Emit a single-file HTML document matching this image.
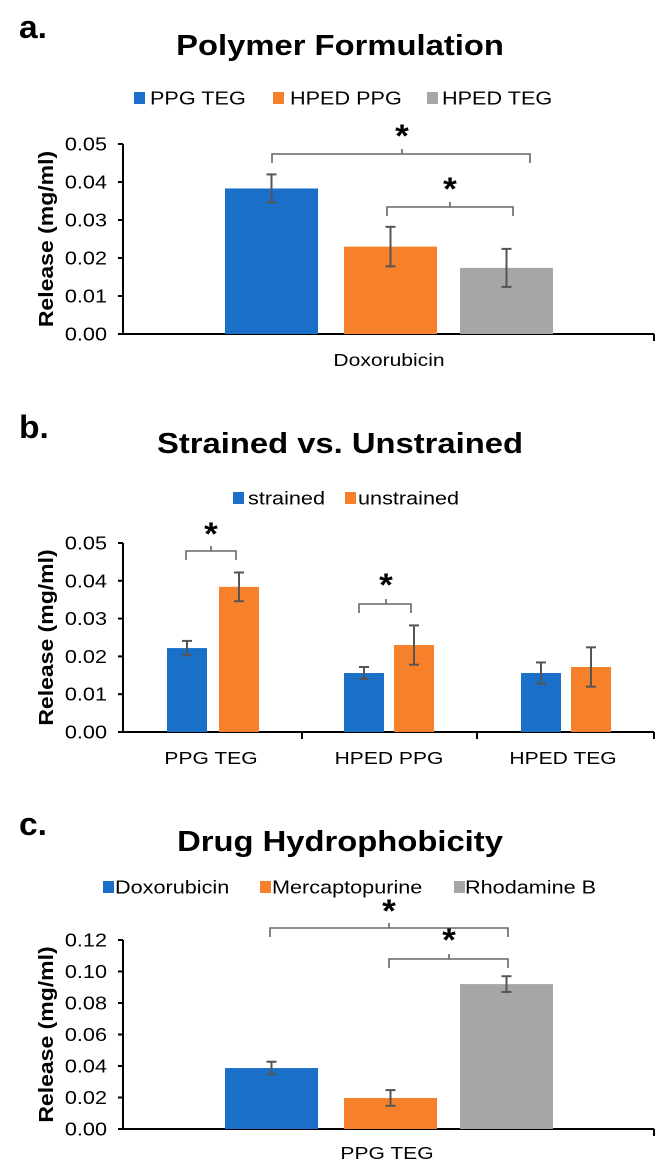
<!DOCTYPE html>
<html><head><meta charset="utf-8"><style>
body{margin:0;background:#fff;}
svg{display:block;font-family:"Liberation Sans",Arial,sans-serif;}
</style></head><body>
<svg id="fig" width="671" height="1175" viewBox="0 0 671 1175"></svg>
<script>
// Panel a data
const aSeries = ["PPG TEG","HPED PPG","HPED TEG"];
const aValues = [0.0383, 0.0230, 0.0174];
const aErrors = [0.0037, 0.0052, 0.0050];
const aTicks = ["0.00","0.01","0.02","0.03","0.04","0.05"];
// Panel b data
const bCategories = ["PPG TEG","HPED PPG","HPED TEG"];
const bStrained = [0.0222, 0.0156, 0.0156];
const bStrainedErr = [0.0019, 0.0016, 0.0028];
const bUnstrained = [0.0384, 0.0230, 0.0172];
const bUnstrainedErr = [0.0038, 0.0052, 0.0052];
const bTicks = ["0.00","0.01","0.02","0.03","0.04","0.05"];
// Panel c data
const cSeries = ["Doxorubicin","Mercaptopurine","Rhodamine B"];
const cValues = [0.0387, 0.0197, 0.0920];
const cErrors = [0.0040, 0.0050, 0.0050];
const cTicks = ["0.00","0.02","0.04","0.06","0.08","0.10","0.12"];

const C = ["#1a6fc9","#f7812a","#a6a6a6"];
const svg = document.getElementById('fig');
const NS = "http://www.w3.org/2000/svg";
function el(tag, attrs, parent){
  const e = document.createElementNS(NS, tag);
  for (const k in attrs) e.setAttribute(k, attrs[k]);
  (parent||svg).appendChild(e); return e;
}
function txt(x,y,s,size,weight,anchor,parent,sx,rot){
  const t = el('text',{x:0,y:0,'font-size':size,'font-weight':weight||'normal','text-anchor':anchor||'start',fill:'#000'},parent);
  t.setAttribute('transform',`translate(${x},${y})${rot?' rotate('+rot+')':''} scale(${sx||1.17},1)`);
  t.textContent = s; return t;
}
const X0 = 123, X1 = 654;

function axes(g, yTop, yBot, ticks, maxV, catTicks){
  const ax = el('g',{},g);
  
  
  el('line',{x1:X0,y1:yTop,x2:X0,y2:yBot,stroke:'#000','stroke-width':2},ax);
  ticks.forEach((t,i)=>{
    const y = yBot - (parseFloat(t)/maxV)*(yBot-yTop);
    el('line',{x1:X0-5,y1:y,x2:X0,y2:y,stroke:'#000','stroke-width':2},ax);
    const l = txt(X0-16,y+6.5,t,18.5,'normal','end',ax);
    
    
  });
  const xa = el('g',{},g);
  
  
  el('line',{x1:X0,y1:yBot,x2:X1,y2:yBot,stroke:'#000','stroke-width':2},xa);
  el('line',{x1:X1,y1:yBot,x2:X1,y2:yBot+7,stroke:'#000','stroke-width':2},xa);
  (catTicks||[]).forEach(x=>el('line',{x1:x,y1:yBot,x2:x,y2:yBot+7,stroke:'#000','stroke-width':2},xa));
  const yt = txt(53,(yTop+yBot)/2,"Release (mg/ml)",20,'bold','middle',g,1.15,-90);
  
  
}
function bar(g,x,w,v,e,yTop,yBot,maxV,color,name){
  const s = (yBot-yTop)/maxV;
  const r = el('rect',{x:x,y:yBot-v*s,width:w,height:v*s,fill:color},g);
  
  
  const cx = x+w/2, y1 = yBot-(v+e)*s, y2 = yBot-(v-e)*s;
  const eg = el('g',{stroke:'#555','stroke-width':2},g);
  
  
  el('line',{x1:cx,y1:y1,x2:cx,y2:y2},eg);
  el('line',{x1:cx-5,y1:y1,x2:cx+5,y2:y1},eg);
  el('line',{x1:cx-5,y1:y2,x2:cx+5,y2:y2},eg);
}
function bracket(g,xa,xb,y,xm,starY){
  const b = el('path',{d:`M${xa},${y+9} L${xa},${y} L${xb},${y} L${xb},${y+9} M${xm},${y} L${xm},${y-5}`,fill:'none',stroke:'#666','stroke-width':1.6},g);
  
  
  const s = txt(xm,starY+14,"*",32,'bold','middle',g,1.1);
  
  
}
function legend(g,items,y,xs){
  items.forEach((it,i)=>{
    const lg = el('g',{},g);
    
    
    el('rect',{x:xs[i][0],y:y-6,width:11,height:12,fill:C[i]},lg);
    txt(xs[i][1],y+6.5,it,18.5,'normal','start',lg);
  });
}
function header(g,label,title,labelY,titleY){
  const p = txt(19,labelY,label,32,'bold','start',g,1.05);
  
  
  const t = txt(340,titleY,title,29,'bold','middle',g,1.13);
  
  
}
const barX = [225,344,460], barW = 93;

// Panel a
const ga = el('g',{});  
header(ga,"a.","Polymer Formulation",38,55);
legend(ga,aSeries,98,[[134,150],[273,290],[427,442]]);
axes(ga,144,334,aTicks,0.05);
aValues.forEach((v,i)=>bar(ga,barX[i],barW,v,aErrors[i],144,334,0.05,C[i],'bar-'+aSeries[i].toLowerCase().replace(/ /g,'-')));
txt(389,366,"Doxorubicin",18,'normal','middle',ga);
bracket(ga,272,530,154,402,133);
bracket(ga,387,513,207,450,186);

// Panel b
const gb = el('g',{});  
header(gb,"b.","Strained vs. Unstrained",438,453);
legend(gb,["strained","unstrained"],498,[[233,248],[345,358]]);
axes(gb,543,732,bTicks,0.05,[302,477]);
const gx = [167,344,521], go = [219,394,571], bw = 40;
bCategories.forEach((c,i)=>{
  bar(gb,gx[i],bw,bStrained[i],bStrainedErr[i],543,732,0.05,C[0],'bar-strained-'+i);
  bar(gb,go[i],bw,bUnstrained[i],bUnstrainedErr[i],543,732,0.05,C[1],'bar-unstrained-'+i);
  const l = txt([211,389,563][i],764,c,18,'normal','middle',gb);
  
  
});
bracket(gb,186,236,551,211,531);
bracket(gb,359,411,604,386,582);

// Panel c
const gc = el('g',{});  
header(gc,"c.","Drug Hydrophobicity",835,851);
legend(gc,cSeries,887,[[103,115],[260,272],[454,465]]);
axes(gc,940,1129,cTicks,0.12);
cValues.forEach((v,i)=>bar(gc,barX[i],barW,v,cErrors[i],940,1129,0.12,C[i],'bar-'+cSeries[i].toLowerCase().replace(/ /g,'-')));
txt(387,1159,"PPG TEG",18,'normal','middle',gc);
bracket(gc,270,508,928,389,908);
bracket(gc,389,508,959,449,937);
</script>
</body></html>
